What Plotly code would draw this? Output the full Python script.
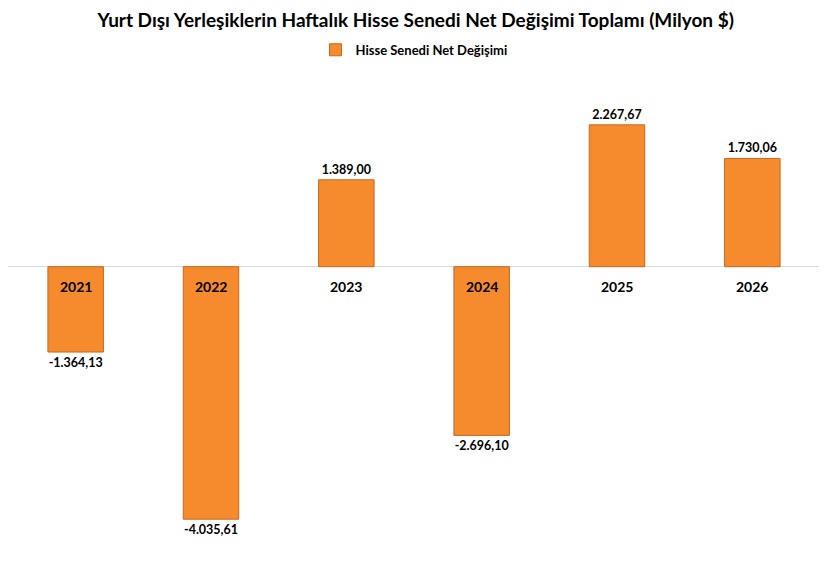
import plotly.graph_objects as go

# Haftalık hisse senedi net değişimi (Milyon $)
years = ["2021", "2022", "2023", "2024", "2025", "2026"]
values = [-1364.13, -4035.61, 1389.00, -2696.10, 2267.67, 1730.06]
labels = ["-1.364,13", "-4.035,61", "1.389,00", "-2.696,10", "2.267,67", "1.730,06"]

font_name = "Lato"

fig = go.Figure()
fig.add_trace(go.Bar(
    x=years, y=values, name="<b>Hisse Senedi Net Değişimi</b>",
    width=0.41,
    marker=dict(color="#F58B2C", line=dict(color="#C8681E", width=1)),
    text=labels, textposition="outside", cliponaxis=False,
    texttemplate="<b>%{text}</b>",
    textfont=dict(family=font_name, size=12.5, color="black"),
))

# year labels just under the zero line (category index positions)
for i, yr in enumerate(years):
    fig.add_annotation(x=i, y=0, yshift=-20, text="<b>%s</b>" % yr, showarrow=False,
                       font=dict(family=font_name, size=14, color="black"))

fig.update_layout(
    width=827, height=582,
    paper_bgcolor="white", plot_bgcolor="white",
    margin=dict(l=0, r=15, t=71, b=48, autoexpand=False),
    title=dict(text="<b>Yurt Dışı Yerleşiklerin Haftalık Hisse Senedi Net Değişimi Toplamı (Milyon $)</b>",
               x=0.493, y=0.978, xanchor="center", yanchor="middle",
               font=dict(family=font_name, size=19, color="black")),
    showlegend=True,
    legend=dict(orientation="h", x=0.5, xanchor="center", y=1.063, yanchor="middle",
                font=dict(family=font_name, size=13, color="black")),
)
fig.update_xaxes(type="category", range=[-0.5, 5.5], showticklabels=False, showgrid=False,
                 zeroline=False, showline=False)
fig.update_yaxes(range=[-4400, 3000], showticklabels=False, showgrid=False,
                 zeroline=True, zerolinecolor="#D9D9D9", zerolinewidth=1)

fig.write_html("out.html")
